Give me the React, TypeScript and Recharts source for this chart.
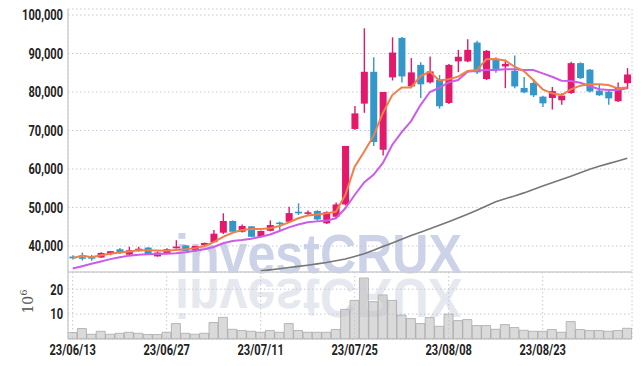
import React from 'react';
import { ComposedChart, Bar, Line, XAxis, YAxis, CartesianGrid } from 'recharts';

const dates = [
  '23/06/13', '23/06/14', '23/06/15', '23/06/16', '23/06/19', '23/06/20', '23/06/21', '23/06/22', '23/06/23', '23/06/26',
  '23/06/27', '23/06/28', '23/06/29', '23/06/30', '23/07/03', '23/07/04', '23/07/05', '23/07/06', '23/07/07', '23/07/10',
  '23/07/11', '23/07/12', '23/07/13', '23/07/14', '23/07/17', '23/07/18', '23/07/19', '23/07/20', '23/07/21', '23/07/24',
  '23/07/25', '23/07/26', '23/07/27', '23/07/28', '23/07/31', '23/08/01', '23/08/02', '23/08/03', '23/08/04', '23/08/07',
  '23/08/08', '23/08/09', '23/08/10', '23/08/11', '23/08/14', '23/08/16', '23/08/17', '23/08/18', '23/08/21', '23/08/22',
  '23/08/23', '23/08/24', '23/08/25', '23/08/28', '23/08/29', '23/08/30', '23/08/31', '23/09/01', '23/09/04', '23/09/05',
];

const opens = [
  37250, 37100, 37300, 37000, 37900, 39150, 37750, 38650, 39600, 37300,
  38100, 39400, 40150, 39000, 40250, 41000, 43450, 46500, 43700, 45100,
  42400, 43950, 46100, 46300, 48900, 48600, 49100, 45900, 47600, 50800,
  70400, 76980, 85250, 65000, 83800, 94050, 81450, 87050, 82500, 83200,
  77150, 87950, 87950, 92850, 83350, 88600, 86650, 85500, 81050, 82350,
  78800, 78450, 77850, 79750, 87500, 85800, 80350, 80100, 77600, 82300,
];
const closes = [
  36800, 36900, 36700, 38200, 38650, 38150, 38900, 39300, 37700, 38300,
  39150, 39850, 38750, 40000, 40800, 43200, 46500, 43700, 45200, 42400,
  43900, 45450, 45800, 48550, 48650, 48750, 46900, 48800, 50800, 66000,
  74450, 85250, 67000, 80000, 90250, 84050, 85100, 82000, 85350, 76300,
  87050, 89150, 90950, 85100, 90700, 86000, 87300, 81450, 79900, 79150,
  77050, 80250, 79050, 87500, 83600, 80150, 79150, 78350, 81300, 84550,
];
const highs = [
  37600, 38300, 37650, 38350, 38700, 39500, 39800, 39800, 39650, 38550,
  39450, 41500, 40250, 40100, 40900, 44150, 48500, 46600, 45600, 45200,
  44000, 46650, 46300, 50200, 51100, 49200, 49300, 49000, 51300, 66000,
  76350, 96550, 89050, 80000, 94200, 94300, 88800, 87700, 89200, 84400,
  87300, 90950, 93700, 93300, 90900, 89000, 88400, 89500, 83900, 83400,
  79000, 81300, 79700, 87850, 87700, 86000, 81900, 80300, 82500, 86200,
];
const lows = [
  36500, 36250, 36200, 36950, 37600, 37900, 37700, 38600, 37650, 37250,
  38050, 39350, 38700, 38500, 40200, 40900, 43100, 43600, 43500, 42300,
  42300, 43800, 43900, 46100, 48050, 48150, 46600, 45700, 47200, 50500,
  70100, 74600, 66000, 63500, 83000, 82500, 81200, 78450, 82200, 75700,
  76900, 85150, 87700, 84700, 83100, 85000, 81000, 81000, 79700, 78700,
  76100, 75450, 76700, 79500, 83400, 79900, 79000, 76700, 77400, 80800,
];
const volumes = [
  2.6, 4.2, 1.9, 3.1, 1.9, 2.3, 2.7, 2.3, 1.8, 1.8,
  2.7, 6.2, 2.3, 1.9, 2.3, 6.6, 8.7, 3.9, 3.4, 3.1,
  2.7, 3.4, 2.7, 6.2, 3.4, 2.7, 2.7, 2.7, 3.8, 11.9,
  15.5, 24.5, 15.0, 17.7, 15.5, 9.6, 8.2, 6.2, 8.6, 5.1,
  10.0, 7.4, 7.8, 5.4, 5.4, 3.9, 5.8, 4.6, 3.5, 3.1,
  3.1, 3.8, 2.7, 7.0, 3.8, 3.4, 3.4, 3.1, 3.4, 4.3,
];
const ma5 = [
  36850, 37500, 37100, 37600, 38000, 38300, 38600, 38900, 38900, 38850,
  38800, 38950, 39150, 39450, 40000, 41000, 42400, 43450, 44150, 44400,
  44400, 44600, 45200, 46150, 47200, 47900, 48200, 48500, 48900, 53250,
  60600, 64500, 68600, 74550, 79200, 81150, 81200, 84150, 85250, 83000,
  83300, 84000, 85450, 85700, 88500, 88600, 88200, 86600, 85450, 83100,
  80700, 79650, 79200, 80700, 81650, 82000, 82000, 81800, 80950, 81200,
];
const ma20 = [
  34150, 34750, 35400, 36000, 36600, 37100, 37500, 37750, 37850, 37900,
  38000, 38150, 38400, 38750, 39150, 39750, 40700, 41300, 41550, 41900,
  42400, 43000, 43900, 44850, 45600, 46150, 46400, 46600, 47200, 49800,
  53250, 56500, 58500, 61600, 66300, 69600, 72450, 76600, 80000, 81100,
  82500, 83100, 85270, 85550, 85700, 85700, 85900, 85900, 85700, 85700,
  84850, 83950, 82950, 82850, 82400, 81550, 80700, 80500, 80500, 80950,
];
const ma120 = [
  null, null, null, null, null, null, null, null, null, null,
  null, null, null, null, null, null, null, null, null, null,
  33550, 33800, 34100, 34400, 34700, 35000, 35350, 35700, 36150, 36650,
  37300, 38000, 38900, 39900, 40800, 41750, 42700, 43600, 44500, 45400,
  46300, 47250, 48250, 49300, 50400, 51500, 52300, 53000, 53800, 54700,
  55600, 56450, 57300, 58150, 59050, 59950, 60700, 61400, 62100, 62800,
];

const tickDates = ['23/06/13', '23/06/27', '23/07/11', '23/07/25', '23/08/08', '23/08/23'];
const priceTicks = [40000, 50000, 60000, 70000, 80000, 90000, 100000];
const volumeTicks = [10, 20];

const rows = dates.map((date, i) => ({
  date,
  open: opens[i],
  close: closes[i],
  high: highs[i],
  low: lows[i],
  volume: volumes[i],
  ma5: ma5[i],
  ma20: ma20[i],
  ma120: ma120[i],
}));

const UP = '#e5196b';
const DOWN = '#3397c9';
const GRID = '#c4c7da';
const FRAME = '#d0d0d0';

// narrow bold labels: Roboto squeezed horizontally
function NarrowTick(props: any) {
  const { x, y, payload, textAnchor, vertical, formatter } = props;
  const label = formatter ? formatter(payload.value) : payload.value;
  return (
    <text
      transform={`translate(${x}, ${y}) scale(0.74, 1)`}
      textAnchor={textAnchor}
      dy={vertical ? '0.355em' : '0.71em'}
      fill="#222"
      fontSize={15}
      fontWeight={700}
      fontFamily="Roboto, 'DejaVu Sans', sans-serif"
    >
      {label}
    </text>
  );
}

const fmt = (v: number) => v.toLocaleString('en-US');

function Candle(props: any) {
  const { x, y, width, height, payload } = props;
  const top = Math.min(y, y + height);
  const h = Math.abs(height);
  const { open, close, high, low } = payload;
  const color = close >= open ? UP : DOWN;
  const py = (v: number) => top + ((high - v) / (high - low || 1)) * h;
  const cx = x + width / 2;
  const bTop = py(Math.max(open, close));
  const bBot = py(Math.min(open, close));
  return (
    <g>
      <line x1={cx} x2={cx} y1={top} y2={top + h} stroke={color} strokeWidth={1.4} />
      <rect x={cx - 3.5} y={bTop} width={7} height={Math.max(1.6, bBot - bTop)} fill={color} />
    </g>
  );
}

function PowerLabel(props: any) {
  const { viewBox } = props;
  const cx = viewBox.x + 25;
  const cy = viewBox.y + viewBox.height / 2 - 4;
  return (
    <text
      x={cx}
      y={cy}
      transform={`rotate(-90, ${cx}, ${cy})`}
      textAnchor="middle"
      fill="#555"
      fontSize={14}
      fontFamily="'DejaVu Serif', 'Liberation Serif', serif"
    >
      10<tspan dy={-6} fontSize={10}>6</tspan>
    </text>
  );
}

export default function App() {
  return (
    <div style={{ position: 'absolute', left: 0, top: 0, width: 642, height: 366, background: '#fff' }}>
      <svg width={642} height={366} style={{ position: 'absolute', left: 0, top: 0 }}>
        <text
          x={175}
          y={273}
          textLength={287}
          lengthAdjust="spacingAndGlyphs"
          fill="#ccd2e7"
          fontSize={55}
          fontWeight={700}
          fontFamily="'Liberation Sans', Arial, sans-serif"
        >
          investCRUX
        </text>
        <text
          x={175}
          y={273}
          textLength={287}
          lengthAdjust="spacingAndGlyphs"
          fill="#e6e8f0"
          fontSize={55}
          fontWeight={700}
          fontFamily="'Liberation Sans', Arial, sans-serif"
          transform="translate(0, 552) scale(1, -1)"
        >
          investCRUX
        </text>
      </svg>

      <div style={{ position: 'absolute', left: 0, top: 0 }}>
        <ComposedChart width={642} height={273} data={rows} margin={{ top: 9, right: 10, left: 8, bottom: 0 }}>
          <CartesianGrid stroke={GRID} strokeDasharray="1.5 2.5" />
          <XAxis
            dataKey="date"
            ticks={tickDates}
            interval={0}
            height={1}
            tick={false}
            tickLine={false}
            axisLine={{ stroke: FRAME, strokeWidth: 1.5 }}
          />
          <XAxis
            xAxisId="top"
            orientation="top"
            dataKey="date"
            height={0}
            tick={false}
            tickLine={false}
            axisLine={{ stroke: FRAME, strokeWidth: 2 }}
          />
          <YAxis
            domain={[33250, 101560]}
            ticks={priceTicks}
            allowDataOverflow
            width={60}
            tick={<NarrowTick vertical formatter={fmt} />}
            tickSize={0}
            tickMargin={5}
            tickLine={false}
            axisLine={{ stroke: FRAME, strokeWidth: 1.5 }}
          />
          <YAxis yAxisId="right" orientation="right" width={0} tick={false} tickLine={false} axisLine={{ stroke: FRAME, strokeWidth: 1.5 }} />
          <Bar dataKey={(d: any) => [d.low, d.high]} shape={<Candle />} isAnimationActive={false} />
          <Line dataKey="ma120" stroke="#777" strokeWidth={1.6} dot={false} activeDot={false} isAnimationActive={false} />
          <Line dataKey="ma20" stroke="#cc5ce8" strokeWidth={2} dot={false} activeDot={false} isAnimationActive={false} />
          <Line dataKey="ma5" stroke="#ee8048" strokeWidth={2} dot={false} activeDot={false} isAnimationActive={false} />
        </ComposedChart>
      </div>

      <div style={{ position: 'absolute', left: 0, top: 272 }}>
        <ComposedChart width={642} height={94} data={rows} margin={{ top: 0, right: 10, left: 8, bottom: 0 }} barCategoryGap={0}>
          <CartesianGrid stroke={GRID} strokeDasharray="1.5 2.5" />
          <XAxis
            dataKey="date"
            ticks={tickDates}
            interval={0}
            height={27}
            tick={<NarrowTick />}
            tickSize={0}
            tickMargin={5}
            tickLine={false}
            axisLine={{ stroke: '#bbb', strokeWidth: 1 }}
          />
          <YAxis
            domain={[0, 26.9]}
            ticks={volumeTicks}
            allowDataOverflow
            width={60}
            tick={<NarrowTick vertical />}
            tickSize={0}
            tickMargin={5}
            tickLine={false}
            axisLine={{ stroke: FRAME, strokeWidth: 1.5 }}
            label={<PowerLabel />}
          />
          <YAxis yAxisId="right" orientation="right" width={0} tick={false} tickLine={false} axisLine={{ stroke: FRAME, strokeWidth: 1.5 }} />
          <Bar dataKey="volume" fill="#c4c4c4" fillOpacity={0.62} stroke="#aaa" strokeWidth={0.8} isAnimationActive={false} />
        </ComposedChart>
      </div>
    </div>
  );
}
